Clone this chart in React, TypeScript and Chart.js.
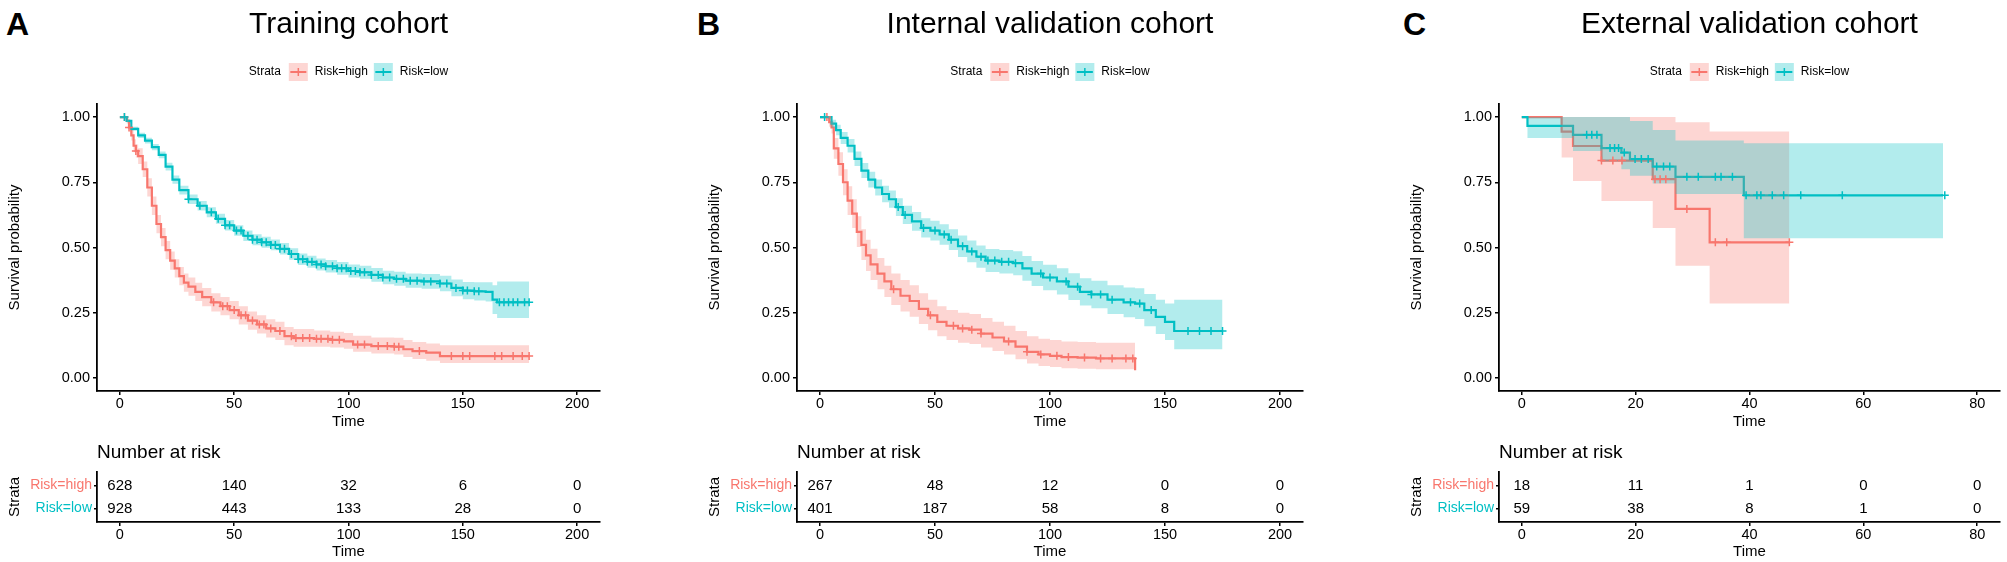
import React, { useEffect, useRef } from "react";
import { Chart, registerables } from "chart.js";

Chart.register(...registerables);

// ---------------- data ----------------
const strataLabels = ["Risk=high", "Risk=low"];
const panelTitles = ["Training cohort", "Internal validation cohort", "External validation cohort"];
const panelLetters = ["A", "B", "C"];
const survTicks = [0, 0.25, 0.5, 0.75, 1];
const timeTicksAB = [0, 50, 100, 150, 200];
const timeTicksC = [0, 20, 40, 60, 80];

// Panel A – Training cohort
const aHighTime = [0, 3, 4, 5, 6, 7, 8, 10, 12, 14, 16, 18, 20, 22, 24, 26, 28, 30, 33, 36, 40, 44, 48, 52, 56, 60, 64, 68, 72, 76, 85, 92, 98, 102, 110, 120, 124, 128, 134, 140, 179];
const aHighSurv = [1, 0.985, 0.96, 0.93, 0.89, 0.87, 0.85, 0.8, 0.73, 0.66, 0.59, 0.54, 0.49, 0.45, 0.42, 0.39, 0.365, 0.35, 0.33, 0.31, 0.29, 0.275, 0.26, 0.24, 0.22, 0.205, 0.19, 0.18, 0.16, 0.153, 0.15, 0.146, 0.14, 0.128, 0.122, 0.12, 0.11, 0.103, 0.097, 0.084, 0.084];
const aHighLower = [1, 0.975, 0.945, 0.91, 0.865, 0.845, 0.82, 0.77, 0.695, 0.625, 0.555, 0.505, 0.455, 0.415, 0.385, 0.355, 0.33, 0.315, 0.295, 0.275, 0.255, 0.24, 0.225, 0.205, 0.185, 0.17, 0.155, 0.145, 0.125, 0.12, 0.12, 0.117, 0.112, 0.1, 0.094, 0.09, 0.08, 0.073, 0.066, 0.057, 0.057];
const aHighUpper = [1, 0.995, 0.975, 0.95, 0.915, 0.895, 0.88, 0.83, 0.765, 0.695, 0.625, 0.575, 0.525, 0.485, 0.455, 0.425, 0.4, 0.385, 0.365, 0.345, 0.325, 0.31, 0.295, 0.275, 0.255, 0.24, 0.225, 0.215, 0.195, 0.188, 0.182, 0.177, 0.172, 0.162, 0.155, 0.154, 0.145, 0.138, 0.132, 0.125, 0.125];
const aHighCensor = [2, 4, 7, 41, 45, 47, 50, 53, 55, 58, 61, 63, 66, 70, 75, 77, 80, 83, 86, 88, 91, 93, 96, 104, 107, 113, 117, 120, 122, 131, 145, 150, 153, 164, 167, 172, 176, 179];

const aLowTime = [0, 2, 3, 5, 8, 11, 14, 17, 20, 23, 26, 30, 34, 38, 42, 46, 50, 54, 58, 62, 66, 70, 74, 78, 82, 86, 90, 95, 100, 105, 110, 115, 120, 125, 132, 140, 145, 150, 155, 160, 163, 165, 179];
const aLowSurv = [1, 1, 0.985, 0.955, 0.93, 0.91, 0.885, 0.855, 0.81, 0.76, 0.72, 0.685, 0.66, 0.635, 0.61, 0.585, 0.565, 0.545, 0.53, 0.52, 0.51, 0.495, 0.475, 0.455, 0.445, 0.435, 0.428, 0.42, 0.41, 0.405, 0.395, 0.385, 0.38, 0.373, 0.37, 0.362, 0.345, 0.335, 0.332, 0.33, 0.3, 0.29, 0.29];
const aLowLower = [1, 1, 0.98, 0.947, 0.92, 0.899, 0.873, 0.842, 0.795, 0.744, 0.703, 0.667, 0.642, 0.616, 0.591, 0.565, 0.545, 0.525, 0.509, 0.499, 0.489, 0.473, 0.453, 0.433, 0.422, 0.412, 0.404, 0.396, 0.385, 0.38, 0.369, 0.359, 0.353, 0.346, 0.342, 0.332, 0.313, 0.302, 0.297, 0.293, 0.245, 0.23, 0.23];
const aLowUpper = [1, 1, 0.99, 0.963, 0.94, 0.921, 0.897, 0.868, 0.825, 0.776, 0.737, 0.703, 0.678, 0.654, 0.629, 0.605, 0.585, 0.565, 0.551, 0.541, 0.531, 0.517, 0.497, 0.477, 0.468, 0.458, 0.452, 0.444, 0.435, 0.43, 0.421, 0.411, 0.407, 0.4, 0.398, 0.392, 0.377, 0.368, 0.367, 0.367, 0.355, 0.37, 0.37];
const aLowCensor = [2, 30, 35, 40, 43, 46, 48, 51, 53, 56, 58, 60, 62, 64, 66, 68, 70, 72, 75, 78, 80, 82, 84, 86, 88, 90, 93, 95, 97, 99, 101, 103, 105, 107, 110, 113, 115, 118, 121, 124, 127, 130, 133, 136, 140, 143, 147, 150, 152, 155, 157, 166, 168, 170, 172, 174, 177, 179];

const aRiskHigh = [628, 140, 32, 6, 0];
const aRiskLow = [928, 443, 133, 28, 0];

// Panel B – Internal validation cohort
const bHighTime = [0, 3, 4, 5, 6, 8, 10, 12, 14, 16, 18, 20, 22, 25, 28, 31, 35, 39, 43, 47, 51, 55, 60, 65, 70, 75, 80, 85, 90, 95, 100, 105, 112, 120, 137];
const bHighSurv = [1, 1, 0.98, 0.96, 0.88, 0.82, 0.75, 0.68, 0.63, 0.56, 0.51, 0.47, 0.435, 0.4, 0.37, 0.34, 0.315, 0.295, 0.265, 0.24, 0.215, 0.2, 0.19, 0.185, 0.17, 0.155, 0.14, 0.12, 0.1, 0.09, 0.085, 0.08, 0.078, 0.075, 0.03];
const bHighLower = [1, 1, 0.963, 0.937, 0.84, 0.775, 0.7, 0.625, 0.575, 0.502, 0.452, 0.41, 0.375, 0.34, 0.31, 0.28, 0.255, 0.235, 0.207, 0.183, 0.16, 0.145, 0.135, 0.13, 0.117, 0.103, 0.09, 0.072, 0.055, 0.046, 0.042, 0.037, 0.035, 0.033, 0.005];
const bHighUpper = [1, 1, 0.997, 0.983, 0.92, 0.865, 0.8, 0.735, 0.685, 0.62, 0.57, 0.53, 0.495, 0.46, 0.43, 0.4, 0.375, 0.355, 0.325, 0.3, 0.275, 0.26, 0.25, 0.245, 0.23, 0.215, 0.2, 0.18, 0.16, 0.15, 0.145, 0.14, 0.138, 0.135, 0.12];
const bHighCensor = [3, 32, 48, 58, 62, 66, 70, 82, 90, 96, 103, 108, 115, 122, 127, 133, 136];

const bLowTime = [0, 4, 5, 7, 9, 12, 15, 18, 21, 24, 27, 30, 33, 36, 40, 44, 48, 52, 56, 60, 64, 68, 72, 78, 84, 88, 92, 97, 103, 108, 113, 118, 125, 132, 137, 141, 146, 150, 154, 175];
const bLowSurv = [1, 1, 0.975, 0.95, 0.92, 0.89, 0.84, 0.795, 0.76, 0.73, 0.705, 0.685, 0.655, 0.625, 0.6, 0.575, 0.565, 0.55, 0.53, 0.505, 0.485, 0.465, 0.45, 0.445, 0.44, 0.42, 0.4, 0.385, 0.37, 0.35, 0.33, 0.32, 0.3, 0.29, 0.285, 0.26, 0.234, 0.215, 0.18, 0.18];
const bLowLower = [1, 1, 0.96, 0.93, 0.897, 0.864, 0.812, 0.766, 0.73, 0.699, 0.673, 0.652, 0.621, 0.59, 0.564, 0.538, 0.527, 0.511, 0.49, 0.464, 0.443, 0.422, 0.406, 0.4, 0.394, 0.373, 0.352, 0.336, 0.32, 0.299, 0.278, 0.267, 0.245, 0.233, 0.226, 0.198, 0.168, 0.145, 0.11, 0.11];
const bLowUpper = [1, 1, 0.99, 0.97, 0.943, 0.916, 0.868, 0.824, 0.79, 0.761, 0.737, 0.718, 0.689, 0.66, 0.636, 0.612, 0.603, 0.589, 0.57, 0.546, 0.527, 0.508, 0.494, 0.49, 0.486, 0.467, 0.448, 0.434, 0.42, 0.401, 0.382, 0.373, 0.355, 0.347, 0.344, 0.322, 0.3, 0.285, 0.3, 0.3];
const bLowCensor = [2, 34, 37, 45, 50, 54, 57, 62, 66, 70, 73, 76, 79, 82, 85, 96, 100, 107, 112, 118, 122, 127, 135, 139, 144, 160, 165, 170, 175];

const bRiskHigh = [267, 48, 12, 0, 0];
const bRiskLow = [401, 187, 58, 8, 0];

// Panel C – External validation cohort
const cHighTime = [0, 7, 9, 14, 23, 27, 33, 47];
const cHighSurv = [1, 0.944, 0.889, 0.833, 0.762, 0.648, 0.52, 0.52];
const cHighLower = [1, 0.845, 0.755, 0.678, 0.575, 0.43, 0.285, 0.285];
const cHighUpper = [1, 1, 1, 1, 1, 0.98, 0.945, 0.945];
const cHighCensor = [14, 16, 17.6, 23.4, 24.3, 25.3, 29, 34, 36, 47];

const cLowTime = [0, 1, 9, 14, 17.5, 19, 23, 27, 39, 74];
const cLowSurv = [1, 0.966, 0.932, 0.881, 0.864, 0.839, 0.81, 0.771, 0.7, 0.7];
const cLowLower = [1, 0.92, 0.87, 0.83, 0.8, 0.775, 0.745, 0.705, 0.535, 0.535];
const cLowUpper = [1, 1, 1, 1, 1, 0.985, 0.95, 0.91, 0.9, 0.9];
const cLowCensor = [11.4, 12.3, 13.2, 15.5, 16.3, 17, 18, 19.9, 21, 22.2, 23.7, 24.9, 26, 29, 31, 34, 35, 37, 39.4, 41.3, 42, 44, 46, 49, 56.3, 74.3];

const cRiskHigh = [18, 11, 1, 0, 0];
const cRiskLow = [59, 38, 8, 1, 0];

// ---------------- styling ----------------
const FONT = "'Liberation Sans', Arial, Helvetica, sans-serif";
const RED = "#F8766D";
const CYAN = "#00BFC4";
const RED_FILL = "rgba(248,118,109,0.3)";
const CYAN_FILL = "rgba(0,191,196,0.3)";
const AXIS_W = 97; // width reserved for the y axis (labels + title)
const RIGHT_PAD = 25;
const KM_H = 440;
const RISK_TOP = 430;
const RISK_H = 132;

Chart.defaults.font.family = FONT;

type Series = { time: number[]; surv: number[]; lower: number[]; upper: number[]; censor: number[] };

type Panel = {
  letter: string;
  title: string;
  axisLeft: number;
  axisRight: number;
  letterX: number;
  xMin: number;
  xMax: number;
  ticks: number[];
  high: Series;
  low: Series;
  riskHigh: number[];
  riskLow: number[];
};

const panels: Panel[] = [
  {
    letter: panelLetters[0], title: panelTitles[0], axisLeft: 97, axisRight: 600, letterX: 6,
    xMin: -10, xMax: 210, ticks: timeTicksAB,
    high: { time: aHighTime, surv: aHighSurv, lower: aHighLower, upper: aHighUpper, censor: aHighCensor },
    low: { time: aLowTime, surv: aLowSurv, lower: aLowLower, upper: aLowUpper, censor: aLowCensor },
    riskHigh: aRiskHigh, riskLow: aRiskLow,
  },
  {
    letter: panelLetters[1], title: panelTitles[1], axisLeft: 797, axisRight: 1303, letterX: 697,
    xMin: -10, xMax: 210, ticks: timeTicksAB,
    high: { time: bHighTime, surv: bHighSurv, lower: bHighLower, upper: bHighUpper, censor: bHighCensor },
    low: { time: bLowTime, surv: bLowSurv, lower: bLowLower, upper: bLowUpper, censor: bLowCensor },
    riskHigh: bRiskHigh, riskLow: bRiskLow,
  },
  {
    letter: panelLetters[2], title: panelTitles[2], axisLeft: 1499, axisRight: 2000, letterX: 1403,
    xMin: -4, xMax: 84, ticks: timeTicksC,
    high: { time: cHighTime, surv: cHighSurv, lower: cHighLower, upper: cHighUpper, censor: cHighCensor },
    low: { time: cLowTime, surv: cLowSurv, lower: cLowLower, upper: cLowUpper, censor: cLowCensor },
    riskHigh: cRiskHigh, riskLow: cRiskLow,
  },
];

function stepValue(times: number[], surv: number[], t: number) {
  let v = surv[0];
  for (let i = 0; i < times.length; i++) {
    if (times[i] <= t) v = surv[i];
    else break;
  }
  return v;
}

const pts = (xs: number[], ys: number[]) => xs.map((x, i) => ({ x, y: ys[i] }));

function kmDatasets(high: Series, low: Series): any[] {
  const band = (s: Series, fillColor: string, order: number) => [
    {
      data: pts(s.time, s.upper), stepped: true, borderWidth: 0, borderColor: "rgba(0,0,0,0)",
      pointRadius: 0, backgroundColor: fillColor, fill: "+1", order,
    },
    {
      data: pts(s.time, s.lower), stepped: true, borderWidth: 0, borderColor: "rgba(0,0,0,0)",
      pointRadius: 0, fill: false, order,
    },
  ];
  const line = (s: Series, color: string, order: number) => ({
    data: pts(s.time, s.surv), stepped: true, borderWidth: 2.2, borderColor: color,
    pointRadius: 0, fill: false, order,
  });
  const cens = (s: Series, color: string, order: number) => ({
    data: s.censor.map((t) => ({ x: t, y: stepValue(s.time, s.surv, t) })),
    showLine: false, pointStyle: "cross", pointRadius: 4, borderWidth: 1.5,
    borderColor: color, backgroundColor: color, order,
  });
  return [
    ...band(high, RED_FILL, 4),
    ...band(low, CYAN_FILL, 3),
    line(high, RED, 6),
    line(low, CYAN, 5),
    cens(high, RED, 2),
    cens(low, CYAN, 1),
  ];
}

function drawKey(ctx: CanvasRenderingContext2D, x: number, yc: number, color: string, fill: string) {
  ctx.fillStyle = fill;
  ctx.fillRect(x, yc - 9, 19, 18);
  ctx.strokeStyle = color;
  ctx.lineWidth = 2;
  ctx.beginPath();
  ctx.moveTo(x + 1.5, yc);
  ctx.lineTo(x + 17.5, yc);
  ctx.stroke();
  ctx.lineWidth = 1.5;
  ctx.beginPath();
  ctx.moveTo(x + 9.5, yc - 4);
  ctx.lineTo(x + 9.5, yc + 4);
  ctx.stroke();
}

function headerPlugin(title: string) {
  return {
    id: "kmHeader",
    afterDraw(chart: any) {
      const { ctx, chartArea } = chart;
      const cx = (chartArea.left + chartArea.right) / 2;
      ctx.save();
      ctx.fillStyle = "#000";
      ctx.font = `30px ${FONT}`;
      ctx.textAlign = "center";
      ctx.textBaseline = "alphabetic";
      ctx.fillText(title, cx, 33);

      ctx.font = `12px ${FONT}`;
      const wS = ctx.measureText("Strata").width;
      const wH = ctx.measureText(strataLabels[0]).width;
      const wL = ctx.measureText(strataLabels[1]).width;
      const total = wS + 8 + 19 + 7 + wH + 6 + 19 + 7 + wL;
      let x = cx - total / 2;
      const yc = 72;
      ctx.textAlign = "left";
      ctx.textBaseline = "middle";
      ctx.fillStyle = "#000";
      ctx.fillText("Strata", x, yc);
      x += wS + 8;
      drawKey(ctx, x, yc, RED, RED_FILL);
      x += 26;
      ctx.fillStyle = "#000";
      ctx.fillText(strataLabels[0], x, yc);
      x += wH + 6;
      drawKey(ctx, x, yc, CYAN, CYAN_FILL);
      x += 26;
      ctx.fillStyle = "#000";
      ctx.fillText(strataLabels[1], x, yc);
      ctx.restore();
    },
  };
}

function riskPlugin(times: number[], high: number[], low: number[]) {
  return {
    id: "riskText",
    afterDatasetsDraw(chart: any) {
      const { ctx, chartArea } = chart;
      const xs = chart.scales.x;
      const ys = chart.scales.y;
      ctx.save();
      ctx.fillStyle = "#000";
      ctx.font = `19px ${FONT}`;
      ctx.textAlign = "left";
      ctx.textBaseline = "middle";
      ctx.fillText("Number at risk", chartArea.left, 23);
      ctx.font = `15px ${FONT}`;
      ctx.textAlign = "center";
      times.forEach((t, j) => {
        const px = xs.getPixelForValue(t);
        ctx.fillText(String(high[j]), px, ys.getPixelForValue(2));
        ctx.fillText(String(low[j]), px, ys.getPixelForValue(1));
      });
      ctx.restore();
    },
  };
}

const axisBorder = { display: true, color: "#000", width: 1.8 };
const tickGrid = (len: number) => ({ display: true, drawOnChartArea: false, drawTicks: true, tickLength: len, color: "#000", lineWidth: 1.5 });

function xScale(p: Panel, height: number) {
  return {
    type: "linear",
    min: p.xMin,
    max: p.xMax,
    afterBuildTicks: (s: any) => { s.ticks = p.ticks.map((v) => ({ value: v })); },
    afterFit: (s: any) => { s.height = height; },
    ticks: { color: "#000", font: { size: 14.5 }, padding: 0, autoSkip: false, maxRotation: 0, callback: (v: any) => String(v) },
    grid: tickGrid(4),
    border: axisBorder,
    title: { display: true, text: "Time", color: "#000", font: { size: 15 }, padding: { top: 0, bottom: 0 } },
  };
}

function KmChart({ p }: { p: Panel }) {
  const ref = useRef<HTMLCanvasElement>(null);
  const w = p.axisRight - p.axisLeft + AXIS_W + RIGHT_PAD;
  useEffect(() => {
    const chart = new Chart(ref.current as HTMLCanvasElement, {
      type: "line",
      data: { datasets: kmDatasets(p.high, p.low) },
      options: {
        animation: false,
        responsive: false,
        events: [],
        layout: { padding: { left: 0, right: RIGHT_PAD, top: 104, bottom: 9 } },
        plugins: { legend: { display: false }, tooltip: { enabled: false } },
        scales: {
          x: xScale(p, 40) as any,
          y: {
            type: "linear",
            min: -0.05,
            max: 1.05,
            afterBuildTicks: (s: any) => { s.ticks = survTicks.map((v) => ({ value: v })); },
            afterFit: (s: any) => { s.width = AXIS_W; },
            ticks: { color: "#000", font: { size: 14.5 }, padding: 3, callback: (v: any) => Number(v).toFixed(2) },
            grid: tickGrid(4),
            border: axisBorder,
            title: { display: true, text: "Survival probability", color: "#000", font: { size: 15 }, padding: { top: 6, bottom: 0 } },
          } as any,
        },
      } as any,
      plugins: [headerPlugin(p.title)],
    });
    return () => chart.destroy();
  }, []);
  return (
    <canvas
      ref={ref}
      width={w}
      height={KM_H}
      style={{ position: "absolute", left: p.axisLeft - AXIS_W, top: 0, width: w, height: KM_H }}
    />
  );
}

function RiskChart({ p }: { p: Panel }) {
  const ref = useRef<HTMLCanvasElement>(null);
  const w = p.axisRight - p.axisLeft + AXIS_W + RIGHT_PAD;
  useEffect(() => {
    const chart = new Chart(ref.current as HTMLCanvasElement, {
      type: "scatter",
      data: {
        datasets: [
          { data: p.ticks.map((t) => ({ x: t, y: 2 })), pointRadius: 0 },
          { data: p.ticks.map((t) => ({ x: t, y: 1 })), pointRadius: 0 },
        ],
      },
      options: {
        animation: false,
        responsive: false,
        events: [],
        layout: { padding: { left: 0, right: RIGHT_PAD, top: 42, bottom: 1 } },
        plugins: { legend: { display: false }, tooltip: { enabled: false } },
        scales: {
          x: xScale(p, 39) as any,
          y: {
            type: "linear",
            min: 0.4,
            max: 2.6,
            afterBuildTicks: (s: any) => { s.ticks = [{ value: 1 }, { value: 2 }]; },
            afterFit: (s: any) => { s.width = AXIS_W; },
            ticks: {
              font: { size: 14 },
              padding: 2,
              color: (c: any) => (c.tick && c.tick.value === 2 ? RED : CYAN),
              callback: (v: any) => (v === 2 ? strataLabels[0] : strataLabels[1]),
            },
            grid: tickGrid(3),
            border: axisBorder,
            title: { display: true, text: "Strata", color: "#000", font: { size: 15 }, padding: { top: 6, bottom: 0 } },
          } as any,
        },
      } as any,
      plugins: [riskPlugin(p.ticks, p.riskHigh, p.riskLow)],
    });
    return () => chart.destroy();
  }, []);
  return (
    <canvas
      ref={ref}
      width={w}
      height={RISK_H}
      style={{ position: "absolute", left: p.axisLeft - AXIS_W, top: RISK_TOP, width: w, height: RISK_H }}
    />
  );
}

export default function App() {
  return (
    <div
      style={{
        position: "absolute",
        left: 0,
        top: 0,
        width: 2007,
        height: 562,
        overflow: "hidden",
        background: "#fff",
        fontFamily: FONT,
      }}
    >
      {panels.map((p) => (
        <React.Fragment key={p.letter}>
          <div
            style={{
              position: "absolute",
              left: p.letterX,
              top: 8,
              fontSize: 32,
              fontWeight: "bold",
              lineHeight: "32px",
              color: "#000",
            }}
          >
            {p.letter}
          </div>
          <KmChart p={p} />
          <RiskChart p={p} />
        </React.Fragment>
      ))}
    </div>
  );
}
